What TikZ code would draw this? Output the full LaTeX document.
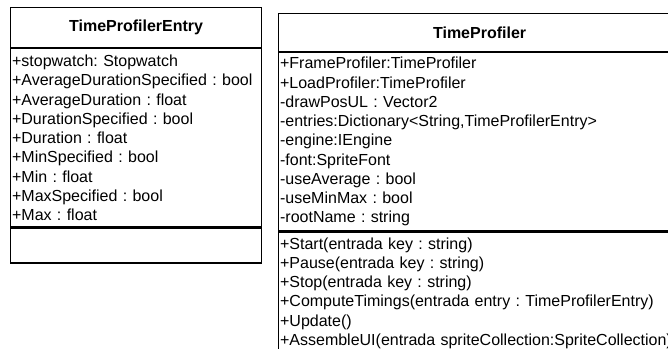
\documentclass[tikz,border=0pt]{standalone}
\usepackage{fontspec}
\setmainfont{Liberation Sans}
\usetikzlibrary{positioning}
\frenchspacing

\begin{document}
\begin{tikzpicture}[x=1pt,y=-1pt,
  umlbox/.style={draw, line width=1.2pt, inner xsep=1.5pt, inner ysep=0pt,
    font=\fontsize{16}{19.25}\selectfont, anchor=north west},
  classname/.style={umlbox, font=\fontsize{16}{19.25}\selectfont\bfseries, align=center},
  members/.style={umlbox, align=left}]
\useasboundingbox (0,0) rectangle (668,348);
\clip (0,0) rectangle (668,348);

% class TimeProfilerEntry
\node[classname, minimum width=251pt, minimum height=40pt] (entryname) at (10,7) {TimeProfilerEntry};
\node[members, text width=248pt, minimum height=178pt] (entryattr) at (entryname.south west)
  {+stopwatch: Stopwatch\\
   +AverageDurationSpecified : bool\\
   +AverageDuration : float\\
   +DurationSpecified : bool\\
   +Duration : float\\
   +MinSpecified : bool\\
   +Min : float\\
   +MaxSpecified : bool\\
   +Max : float};
\node[umlbox, minimum width=251pt, minimum height=35pt] (entryops) at (entryattr.south west) {};

% class TimeProfiler
\node[classname, minimum width=402pt, minimum height=38pt] (profname) at (278,13) {TimeProfiler};
\node[members, text width=399pt, minimum height=178pt] (profattr) at (profname.south west)
  {+FrameProfiler:TimeProfiler\\
   +LoadProfiler:TimeProfiler\\
   -drawPosUL : Vector2\\
   -entries:Dictionary<String,TimeProfilerEntry>\\
   -engine:IEngine\\
   -font:SpriteFont\\
   -useAverage : bool\\
   -useMinMax : bool\\
   -rootName : string};
\node[members, text width=399pt, minimum height=122pt] (profops) at (profattr.south west)
  {+Start(entrada key : string)\\
   +Pause(entrada key : string)\\
   +Stop(entrada key : string)\\
   +ComputeTimings(entrada entry : TimeProfilerEntry)\\
   +Update()\\
   +AssembleUI(entrada spriteCollection:SpriteCollection)};
\end{tikzpicture}
\end{document}
